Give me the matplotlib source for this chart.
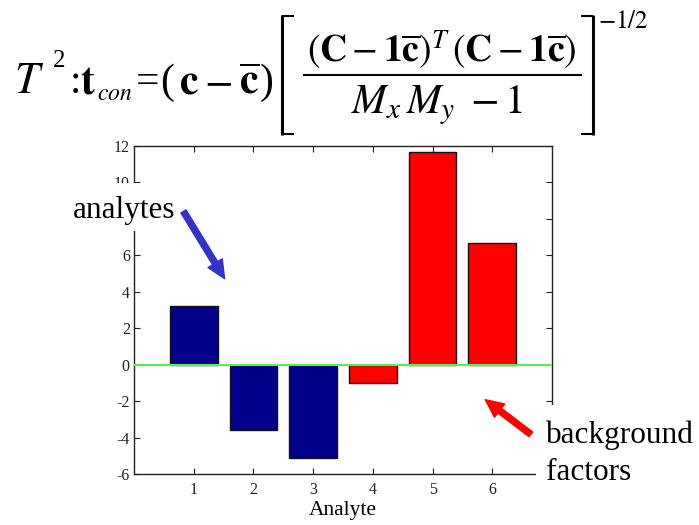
import matplotlib
matplotlib.use("Agg")
import matplotlib.pyplot as plt
from matplotlib.patches import Rectangle, FancyArrowPatch
from matplotlib.lines import Line2D

analytes = [1, 2, 3, 4, 5, 6]
values = [3.22, -3.59, -5.14, -1.02, 11.69, 6.65]
bar_colors = ["#00008B", "#00008B", "#00008B", "#FF0000", "#FF0000", "#FF0000"]
yticks = [-6, -4, -2, 0, 2, 4, 6, 8, 10, 12]
xticks = [1, 2, 3, 4, 5, 6]

plt.rcParams["font.family"] = ["Liberation Serif", "DejaVu Serif"]
plt.rcParams["mathtext.fontset"] = "stix"
plt.rcParams["axes.unicode_minus"] = False

W, H = 699, 525
fig = plt.figure(figsize=(W / 100, H / 100), dpi=100)

def fx(px):
    return px / W

def fy(py):
    return 1 - py / H

ax = fig.add_axes([fx(134), fy(474), fx(552) - fx(134), fy(146) - fy(474)])
ax.bar(analytes, values, width=0.8, color=bar_colors, edgecolor="#111111", linewidth=1.0, zorder=2)
ax.axhline(0, color="#55ee55", linewidth=1.5, zorder=3)
ax.set_xlim(0, 7)
ax.set_ylim(-6, 12)
ax.set_xticks(xticks)
ax.set_yticks(yticks)
ax.tick_params(direction="in", length=4, top=True, right=True, labelsize=11.5, colors="#222222", width=0.8)
ax.tick_params(axis="x", pad=6)
ax.tick_params(axis="y", pad=3)
for s in ax.spines.values():
    s.set_color("#222222")
    s.set_linewidth(1.0)
ax.set_xlabel("Analyte", fontsize=15.5, labelpad=2)

# white overlay boxes (text boxes covering part of the plot)
fig.patches.append(Rectangle((fx(60), fy(231)), fx(180) - fx(60), fy(183) - fy(231),
                             transform=fig.transFigure, facecolor="white", edgecolor="none", zorder=5))
fig.patches.append(Rectangle((fx(536), fy(525)), fx(699) - fx(536), fy(405) - fy(525),
                             transform=fig.transFigure, facecolor="white", edgecolor="none", zorder=5))

fig.text(fx(124), fy(218), "analytes", fontsize=22.5, ha="center", va="baseline", zorder=6)
fig.text(fx(546), fy(443), "background", fontsize=22.5, ha="left", va="baseline", zorder=6)
fig.text(fx(546), fy(480), "factors", fontsize=22.5, ha="left", va="baseline", zorder=6)

arr1 = FancyArrowPatch((fx(182), fy(209)), (fx(226), fy(281)), transform=fig.transFigure,
                       arrowstyle="simple,head_length=13,head_width=12,tail_width=4.3",
                       color="#3333cc", zorder=7)
arr2 = FancyArrowPatch((fx(533), fy(436)), (fx(483), fy(398)), transform=fig.transFigure,
                       arrowstyle="simple,head_length=13,head_width=12,tail_width=4.3",
                       color="#ff0000", zorder=7)
fig.patches.append(arr1)
fig.patches.append(arr2)

# formula, composed piece by piece
def ptext(x, y, s, size, ha="left"):
    fig.text(fx(x), fy(y), s, fontsize=size, ha=ha, va="baseline")

ptext(14, 93, r"$T$", 32)
ptext(53, 67, "2", 18)
ptext(70, 93, ":", 30)
ptext(80, 93, r"$\mathbf{t}$", 30)
ptext(97, 100, r"$con$", 17)
ptext(136, 93, "=", 30)
ptext(160, 93, "(", 30)
ptext(179, 93, r"$\mathbf{c}$", 30)
ptext(204, 93, r"$-$", 30)
ptext(239, 93, r"$\overline{\mathbf{c}}$", 30)
ptext(260, 93, ")", 30)

numer = r"$(\mathbf{C}-\mathbf{1}\overline{\mathbf{c}})^{T}\,(\mathbf{C}-\mathbf{1}\overline{\mathbf{c}})$"
ptext(442, 62, numer, 27, ha="center")
denom = r"$M_{x}\,M_{y}\;-1$"
ptext(437, 113, denom, 30, ha="center")
ptext(598, 28, r"$-1/2$", 18)

lines = [
    ((303, 582), (75, 75), 1.5),
    ((282, 282), (15, 135), 2.2),
    ((282, 294), (16, 16), 1.5),
    ((282, 294), (134, 134), 1.5),
    ((593, 593), (15, 135), 2.2),
    ((581, 593), (16, 16), 1.5),
    ((581, 593), (134, 134), 1.5),
]
for xs, ys, lw in lines:
    fig.lines.append(Line2D([fx(v) for v in xs], [fy(v) for v in ys], transform=fig.transFigure,
                            color="black", linewidth=lw, solid_capstyle="butt"))

fig.savefig("out.png", dpi=100)
